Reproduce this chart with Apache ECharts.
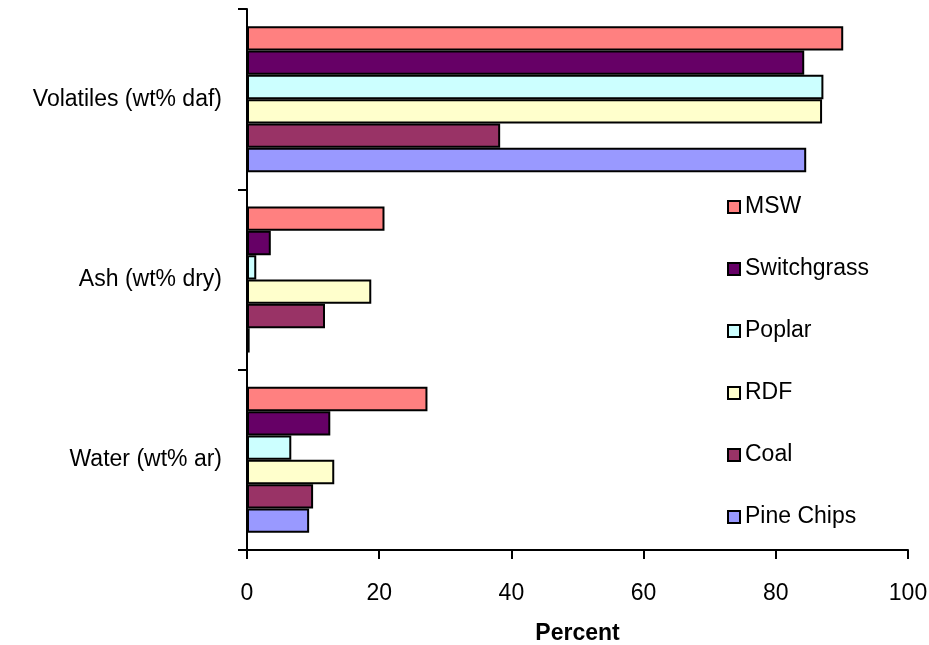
<!DOCTYPE html>
<html>
<head>
<meta charset="utf-8">
<script src="https://cdn.jsdelivr.net/npm/echarts@6/dist/echarts.min.js"></script>
<style>
  html, body { margin: 0; padding: 0; background: #fff; }
  #chart { width: 929px; height: 645px; }
</style>
</head>
<body>
<div id="chart"></div>
<script>
// Fuel properties by feedstock (percent)
const categories = ['Volatiles (wt% daf)', 'Ash (wt% dry)', 'Water (wt% ar)'];
const feedstocks = ['MSW', 'Switchgrass', 'Poplar', 'RDF', 'Coal', 'Pine Chips'];

const msw         = [90.2, 20.8, 27.3];
const switchgrass = [84.3, 3.6, 12.6];
const poplar      = [87.2, 1.4, 6.7];
const rdf         = [87.0, 18.8, 13.2];
const coal        = [38.3, 11.8, 10.0];
const pineChips   = [84.6, 0.4, 9.4];

const xTicks = [0, 20, 40, 60, 80, 100];

const seriesValues = [msw, switchgrass, poplar, rdf, coal, pineChips];
const colors = ['#FF8080', '#660066', '#CCFFFF', '#FFFFCC', '#993366', '#9999FF'];

const FONT = '"Liberation Sans", Arial, sans-serif';

const chart = echarts.init(document.getElementById('chart'), null, { renderer: 'canvas' });

chart.setOption({
  animation: false,
  backgroundColor: '#ffffff',
  textStyle: { fontFamily: FONT, color: '#000' },
  grid: { left: 247, right: 21, top: 9, bottom: 95, containLabel: false, outerBoundsMode: 'none' },
  legend: {
    orient: 'vertical',
    left: 722,
    top: 190.5,
    padding: 5,
    icon: 'rect',
    itemWidth: 12,
    itemHeight: 12,
    itemGap: 39,
    itemStyle: { borderColor: '#000', borderWidth: 2 },
    textStyle: { fontFamily: FONT, fontSize: 23, color: '#000', lineHeight: 23 },
    data: feedstocks
  },
  xAxis: {
    type: 'value',
    min: xTicks[0],
    max: xTicks[xTicks.length - 1],
    interval: xTicks[1] - xTicks[0],
    name: 'Percent',
    nameLocation: 'middle',
    nameGap: 72,
    nameTextStyle: { fontFamily: FONT, fontSize: 23, fontWeight: 'bold', color: '#000' },
    axisLine: { show: true, lineStyle: { color: '#000', width: 2 } },
    axisTick: { show: true, length: 9, lineStyle: { color: '#000', width: 2 } },
    axisLabel: { margin: 32, fontFamily: FONT, fontSize: 23, color: '#000' },
    splitLine: { show: false }
  },
  yAxis: {
    type: 'category',
    inverse: true,
    data: categories,
    axisLine: { show: true, lineStyle: { color: '#000', width: 2 } },
    axisTick: { show: true, length: 9, lineStyle: { color: '#000', width: 2 } },
    axisLabel: { margin: 25, fontFamily: FONT, fontSize: 23, color: '#000' }
  },
  series: feedstocks.map((name, i) => ({
    name: name,
    type: 'bar',
    data: seriesValues[i],
    barGap: '0%',
    barCategoryGap: '19%',
    itemStyle: { color: colors[i], borderColor: '#000', borderWidth: 2 }
  }))
});
</script>
</body>
</html>
